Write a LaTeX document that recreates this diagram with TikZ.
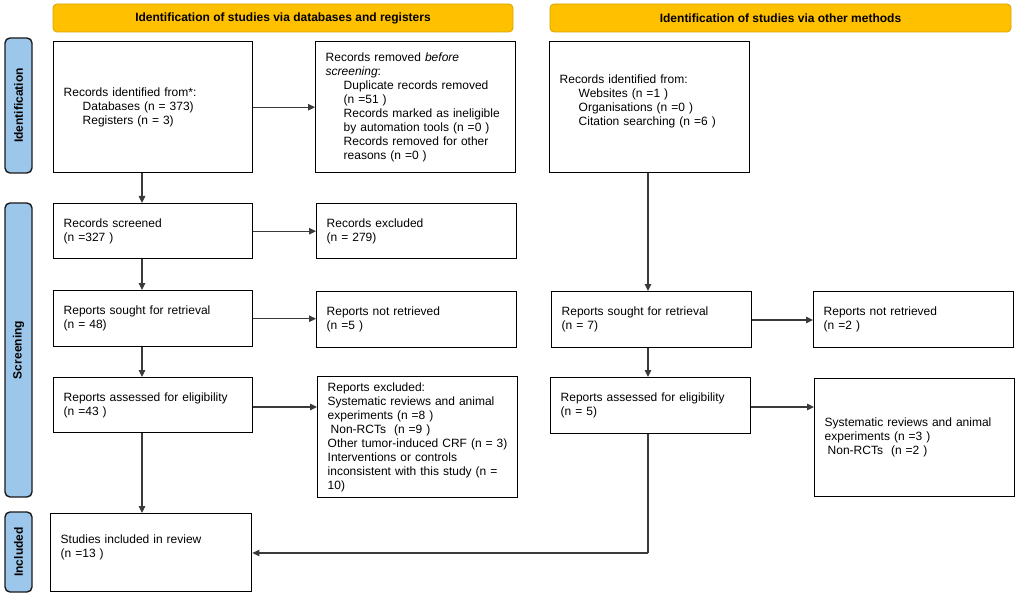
\documentclass[tikz,border=0pt]{standalone}
\usepackage{fontspec}
\setmainfont{Liberation Sans}
\usetikzlibrary{arrows.meta,calc}
\definecolor{hdrfill}{HTML}{FFC000}
\definecolor{hdrline}{HTML}{D9A300}
\definecolor{sidefill}{HTML}{9DC7EA}
\definecolor{sideline}{HTML}{1A1A1A}
\definecolor{conn}{HTML}{3A3A3A}
\tikzset{
  box/.style={draw=black, line width=1.4pt, fill=white, anchor=north west,
    inner xsep=10pt, inner ysep=0pt, align=left,
    font=\fontsize{12}{14}\selectfont},
  header/.style={draw=hdrline, line width=0.8pt, fill=hdrfill, rounded corners=4pt},
  hdrtext/.style={font=\fontsize{12}{14}\selectfont\bfseries},
  side/.style={draw=sideline, line width=1.4pt, fill=sidefill, rounded corners=5pt},
  sidetext/.style={font=\fontsize{12}{14}\selectfont\bfseries, rotate=90},
  arr/.style={draw=conn, line width=1.1pt, -{Triangle[length=7pt,width=6.5pt]}},
  plain/.style={draw=conn, line width=1.1pt},
}
\begin{document}
\begin{tikzpicture}[x=1pt,y=-1pt]
\useasboundingbox (0,0) rectangle (1017,596);
% headers
\draw[header] (53,4) rectangle (513,32);
\node[hdrtext] (h1) at (283,18) {Identification of studies via databases and registers};
\draw[header] (550,4) rectangle (1011,32);
\node[hdrtext] (h2) at (780.5,18) {Identification of studies via other methods};
% side bars
\draw[side] (5,38) rectangle (32,173);
\node[sidetext] (s1) at (18.5,105.5) {Identification};
\draw[side] (5,203) rectangle (32,497);
\node[sidetext] (s2) at (18.5,350) {Screening};
\draw[side] (5,512) rectangle (32,592);
\node[sidetext] (s3) at (18.5,552) {Included};
% boxes left column
\node[box, text width=179pt, minimum height=131pt] (A) at (53,41)
  {Records identified from*:\\\hspace*{19pt}Databases (n = 373)\\\hspace*{19pt}Registers (n = 3)};
\node[box, text width=180pt, minimum height=131pt] (B) at (315,41)
  {Records removed \textit{before}\\\textit{screening}:\\
   \hspace*{18pt}Duplicate records removed\\\hspace*{18pt}(n =51 )\\
   \hspace*{18pt}Records marked as ineligible\\\hspace*{18pt}by automation tools (n =0 )\\
   \hspace*{18pt}Records removed for other\\\hspace*{18pt}reasons (n =0 )};
\node[box, text width=180pt, minimum height=131pt] (C) at (549,41)
  {Records identified from:\\\hspace*{19pt}Websites (n =1 )\\\hspace*{19pt}Organisations (n =0 )\\\hspace*{19pt}Citation searching (n =6 )\\\mbox{}};
\node[box, text width=179pt, minimum height=55pt] (S1) at (53,203)
  {Records screened\\(n =327 )};
\node[box, text width=180pt, minimum height=55pt] (X1) at (316,203)
  {Records excluded\\(n = 279)};
\node[box, text width=179pt, minimum height=56pt] (S2) at (53,290)
  {Reports sought for retrieval\\(n = 48)};
\node[box, text width=180pt, minimum height=56pt] (X2) at (316,291)
  {Reports not retrieved\\(n =5 )};
\node[box, text width=180pt, minimum height=56pt] (R2) at (551,291)
  {Reports sought for retrieval\\(n = 7)};
\node[box, text width=180pt, minimum height=56pt] (Y2) at (813,291)
  {Reports not retrieved\\(n =2 )};
\node[box, text width=179pt, minimum height=55pt] (S3) at (53,377)
  {Reports assessed for eligibility\\(n =43 )};
\node[box, text width=180pt, minimum height=121pt] (X3) at (317,376)
  {Reports excluded:\\Systematic reviews and animal\\experiments (n =8 )\\\hspace*{3pt}Non-RCTs~~(n =9 )\\Other tumor-induced CRF (n = 3)\\Interventions or controls\\inconsistent with this study (n =\\10)};
\node[box, text width=180pt, minimum height=56pt] (R3) at (550,377)
  {Reports assessed for eligibility\\(n = 5)};
\node[box, text width=180pt, minimum height=118pt] (Y3) at (814,378)
  {Systematic reviews and animal\\experiments (n =3 )\\\hspace*{3pt}Non-RCTs~~(n =2 )};
\node[box, text width=181pt, minimum height=78pt] (S4) at (50,513)
  {Studies included in review\\(n =13 )\\\mbox{}};
% column coordinates
\coordinate (colL) at (142,0);
\coordinate (colR) at (648,0);
% connectors
\draw[arr] (A.south -| colL) -- (S1.north -| colL);
\draw[arr] (S1.south -| colL) -- (S2.north -| colL);
\draw[arr] (S2.south -| colL) -- (S3.north -| colL);
\draw[arr] (S3.south -| colL) -- (S4.north -| colL);
\draw[arr] (A.east) -- (A.east -| B.west);
\draw[arr] (S1.east) -- (S1.east -| X1.west);
\draw[arr] (S2.east) -- (S2.east -| X2.west);
\coordinate (y3) at (0,407);
\draw[arr] (S3.east |- y3) -- (X3.west |- y3);
\draw[arr] (C.south -| colR) -- (R2.north -| colR);
\draw[arr] (R2.south -| colR) -- (R3.north -| colR);
\coordinate (y2r) at (0,320);
\draw[arr] (R2.east |- y2r) -- (Y2.west |- y2r);
\draw[arr] (R3.east |- y3) -- (Y3.west |- y3);
\coordinate (yinc) at (0,553);
\draw[plain] (R3.south -| colR) -- (colR |- yinc);
\draw[arr] (colR |- yinc) -- (S4.east |- yinc);
\end{tikzpicture}
\end{document}
